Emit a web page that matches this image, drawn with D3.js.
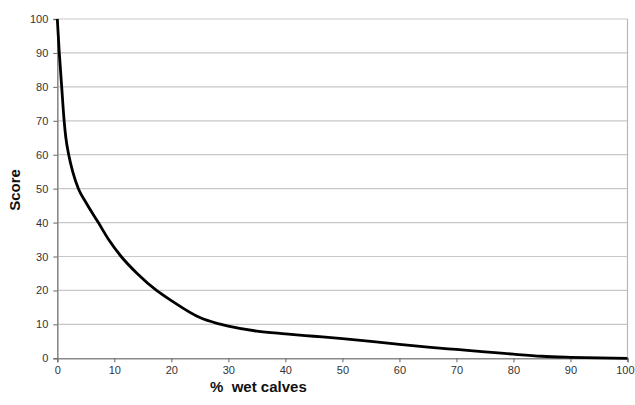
<!DOCTYPE html>
<html><head><meta charset="utf-8">
<script src="https://cdn.jsdelivr.net/npm/d3@7"></script>
<style>body{margin:0;background:#fff;} svg{display:block;}</style>
</head><body>
<svg id="c" width="635" height="405"></svg>
<script>
const wetCalves = [0,0.35,0.77,1.2,1.5,2.0,2.7,3.7,5,7.2,9,11.2,14,17.4,20,25,28,30,35,40,45,50,55,60,65,70,75,80,85,90,95,100];
const scores    = [100,90,80,70,65,60,55,50,46,40,35,30,25,20,17,12,10.3,9.5,8,7.2,6.5,5.8,5,4.1,3.3,2.6,1.9,1.2,0.6,0.3,0.1,0];
const xTicks = [0,10,20,30,40,50,60,70,80,90,100];
const yTicks = [0,10,20,30,40,50,60,70,80,90,100];
const xTitle = "%  wet calves";
const yTitle = "Score";

const svg = d3.select("#c");
const L=57.3, R=627.5, T=19, B=358.3;
const x = d3.scaleLinear().domain([0,100]).range([L,R]);
const y = d3.scaleLinear().domain([0,100]).range([B,T]);
const font = "'Liberation Sans', Arial, sans-serif";

// gridlines
svg.append("g").selectAll("line").data(yTicks.filter(d=>d>0)).join("line")
  .attr("x1",L).attr("x2",R).attr("y1",d=>y(d)).attr("y2",d=>y(d))
  .attr("stroke","#c8c8c8").attr("stroke-width",1.2);
// right border
svg.append("line").attr("x1",R).attr("x2",R).attr("y1",T).attr("y2",B)
  .attr("stroke","#b8b8b8").attr("stroke-width",1.2);

// y axis
const yAxis = svg.append("g").attr("transform",`translate(${L},0)`)
  .call(d3.axisLeft(y).tickValues(yTicks).tickSize(4).tickPadding(5));
// x axis
const xAxis = svg.append("g").attr("transform",`translate(0,${B})`)
  .call(d3.axisBottom(x).tickValues(xTicks).tickSize(4).tickPadding(4));
[yAxis,xAxis].forEach(g=>{
  g.select(".domain").attr("stroke","#8a8a8a").attr("stroke-width",1.6);
  g.selectAll(".tick line").attr("stroke","#666").attr("stroke-width",1);
  g.selectAll(".tick text").attr("fill","#333").style("font-family",font).style("font-size","11px");
});
// keep last x label inside the page
xAxis.selectAll(".tick").filter(d=>d===100).select("text")
  .attr("text-anchor","end").attr("x",634-R);

// curve
const line = d3.line().x((d,i)=>x(wetCalves[i])).y(d=>y(d)).curve(d3.curveMonotoneX);
svg.append("path").datum(scores).attr("d",line)
  .attr("fill","none").attr("stroke","#000").attr("stroke-width",2.8)
  .attr("stroke-linejoin","round");

// titles
svg.append("text").attr("x",210).attr("y",392).text(xTitle)
  .style("font-family",font).style("font-size","15px").style("font-weight","bold").attr("fill","#111")
  .style("white-space","pre").attr("xml:space","preserve");
svg.append("text").attr("transform","translate(20,190) rotate(-90)").attr("text-anchor","middle")
  .text(yTitle).style("font-family",font).style("font-size","15px").style("font-weight","bold").attr("fill","#111");
</script>
</body></html>
